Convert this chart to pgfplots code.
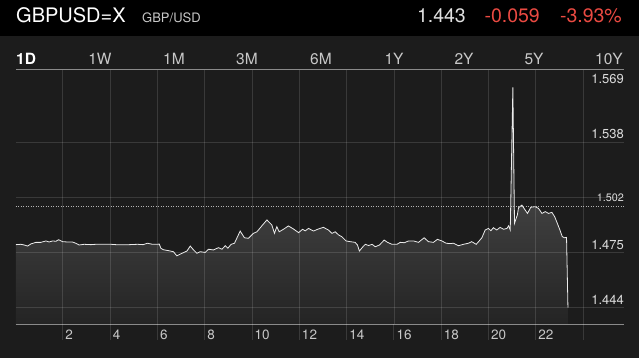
\documentclass[border=0pt]{standalone}
\usepackage{pgfplots}
\usepackage{pgfplotstable}
\pgfplotsset{compat=1.18}
\usepackage{fontspec}
\setmainfont{TeX Gyre Heros}
\definecolor{bgdark}{HTML}{1C1C1C}
\definecolor{redq}{HTML}{EA4A42}
\definecolor{labgray}{HTML}{C8C8C8}
\definecolor{ylab}{HTML}{DCDCDC}
\definecolor{axgray}{HTML}{8A8A8A}
\definecolor{filltop}{HTML}{5A5A5A}
\definecolor{fillbot}{HTML}{242424}

\pgfplotstableread{
h v
0.02 1.4797
0.23 1.4799
0.37 1.4795
0.51 1.4789
0.65 1.4801
0.86 1.4810
1.07 1.4810
1.29 1.4818
1.42 1.4812
1.57 1.4818
1.71 1.4816
1.82 1.4825
1.99 1.4814
2.20 1.4812
2.41 1.4812
2.55 1.4805
2.69 1.4795
2.90 1.4799
3.19 1.4797
3.40 1.4799
3.61 1.4799
4.03 1.4799
4.25 1.4797
4.46 1.4797
4.81 1.4797
5.16 1.4799
5.40 1.4797
5.58 1.4805
5.79 1.4799
6.08 1.4800
6.15 1.4776
6.26 1.4768
6.47 1.4763
6.68 1.4757
6.82 1.4734
7.04 1.4748
7.25 1.4761
7.39 1.4789
7.53 1.4767
7.67 1.4748
7.81 1.4757
8.02 1.4753
8.16 1.4771
8.37 1.4767
8.58 1.4780
8.73 1.4771
8.87 1.4791
8.98 1.4777
9.12 1.4799
9.26 1.4805
9.50 1.4874
9.68 1.4836
9.85 1.4833
10.06 1.4861
10.21 1.4870
10.42 1.4904
10.63 1.4937
10.84 1.4908
10.95 1.4861
11.05 1.4899
11.15 1.4870
11.33 1.4884
11.54 1.4903
11.75 1.4886
11.97 1.4865
12.14 1.4884
12.25 1.4875
12.39 1.4889
12.60 1.4874
12.81 1.4886
13.02 1.4895
13.23 1.4880
13.38 1.4861
13.52 1.4870
13.66 1.4852
13.80 1.4842
13.98 1.4818
14.15 1.4814
14.36 1.4810
14.46 1.4795
14.54 1.4761
14.69 1.4785
14.79 1.4799
14.93 1.4792
15.08 1.4799
15.21 1.4785
15.39 1.4795
15.59 1.4823
15.73 1.4810
15.92 1.4799
16.13 1.4799
16.27 1.4810
16.44 1.4808
16.62 1.4818
16.83 1.4818
17.04 1.4810
17.28 1.4836
17.46 1.4814
17.67 1.4810
17.84 1.4827
18.03 1.4818
18.21 1.4805
18.38 1.4803
18.52 1.4805
18.73 1.4791
18.94 1.4799
19.15 1.4805
19.29 1.4814
19.48 1.4799
19.58 1.4814
19.72 1.4836
19.86 1.4880
20.00 1.4889
20.10 1.4876
20.21 1.4893
20.35 1.4880
20.49 1.4895
20.64 1.4884
20.78 1.4889
20.85 1.4904
20.92 1.4880
21.03 1.5687
21.10 1.4918
21.22 1.4965
21.27 1.5006
21.41 1.5021
21.55 1.4993
21.65 1.4974
21.79 1.5009
21.97 1.5012
22.11 1.5003
22.26 1.4974
22.40 1.4984
22.54 1.4974
22.68 1.4980
22.80 1.4955
22.91 1.4918
23.02 1.4880
23.12 1.4842
23.22 1.4836
23.30 1.4838
23.36 1.4440
}\pricedata

\begin{document}
\begin{tikzpicture}
\useasboundingbox (0bp,0bp) rectangle (639bp,358bp);
\fill[black] (0bp,0bp) rectangle (639bp,358bp);
\fill[bgdark] (0bp,0bp) rectangle (639bp,322bp);
% header
\node[anchor=base west,inner sep=0pt,text=white,font=\fontsize{20bp}{24bp}\selectfont] at (16bp,335.3bp) {GBPUSD=X};
\node[anchor=base west,inner sep=0pt,text=labgray,font=\fontsize{13bp}{16bp}\selectfont] at (142bp,335.3bp) {GBP/USD};
\node[anchor=base east,inner sep=0pt,text=white!88!black,font=\fontsize{19.5bp}{24bp}\selectfont] at (466bp,335.3bp) {1.443};
\node[anchor=base east,inner sep=0pt,text=redq,font=\fontsize{19.5bp}{24bp}\selectfont] at (540bp,335.3bp) {-0.059};
\node[anchor=base east,inner sep=0pt,text=redq,font=\fontsize{19.5bp}{24bp}\selectfont] at (622bp,335.3bp) {-3.93\%};
% tabs
\node[anchor=base west,inner sep=0pt,text=white,font=\fontsize{15.5bp}{18bp}\selectfont\bfseries] at (16bp,293bp) {1D};
\foreach \x/\t in {100/1W,174/1M,247/3M,321/6M,394/1Y,464/2Y,534/5Y,609/10Y}
  \node[anchor=base,inner sep=0pt,text=labgray,font=\fontsize{15.5bp}{18bp}\selectfont] at (\x bp,293bp) {\t};
\draw[axgray,line width=0.8bp] (16bp,288.5bp) -- (624bp,288.5bp);

\begin{axis}[
  at={(15.5bp,34bp)}, anchor=south west,
  scale only axis, width=608.5bp, height=254bp,
  xmin=0, xmax=25.73, ymin=1.43477, ymax=1.5786,
  axis line style={draw=none},
  major tick length=0pt,
  axis on top,
  xtick={2,4,...,24},
  xticklabels={2,4,6,8,10,12,14,16,18,20,22,{}},
  ytick={1.444,1.47525,1.5065,1.53775},
  yticklabels={1.444,1.475,{},1.538},
  extra y ticks={1.569},
  extra y tick labels={1.569},
  extra y tick style={grid=none},
  yticklabel pos=right,
  grid=major,
  major grid style={white,opacity=0.13,line width=0.7bp},
  xticklabel style={anchor=base west,inner sep=0pt,xshift=2.5bp,yshift=-15bp,text=labgray,font=\fontsize{13.5bp}{16bp}\selectfont},
  yticklabel style={anchor=south east,inner sep=0pt,yshift=3bp,text=ylab,font=\fontsize{13bp}{16bp}\selectfont},
  /pgf/number format/assume math mode=true,
]
\addplot[draw=none, top color=filltop, bottom color=fillbot] table[x=h,y=v]{\pricedata}
  -- (axis cs:23.36,1.43477) -- (axis cs:0.02,1.43477) -- cycle;
\addplot[white!92!black, line width=0.8bp] table[x=h,y=v]{\pricedata};
\draw[white!70!black, line width=0.6bp, dash pattern=on 1bp off 1.5bp] (axis cs:0,1.5015) -- (axis cs:25.73,1.5015);
\node[anchor=south east,inner sep=0pt,yshift=4.5bp,text=ylab,font=\fontsize{10.8bp}{13bp}\selectfont] at (axis cs:25.73,1.5015) {1.502};
\end{axis}
\draw[axgray,line width=0.8bp] (15.5bp,34bp) -- (624bp,34bp);
\foreach \h in {2,4,...,24}
  \draw[white,opacity=0.13,line width=0.7bp] ({15.5bp+23.646bp*\h},34bp) -- ({15.5bp+23.646bp*\h},18bp);
\end{tikzpicture}
\end{document}
